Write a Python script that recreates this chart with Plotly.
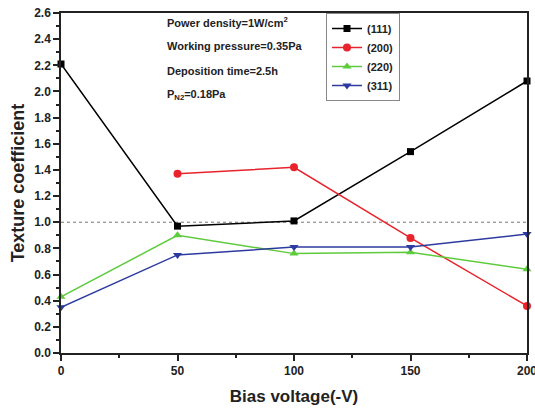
import plotly.graph_objects as go

x_vals = [0, 50, 100, 150, 200]
x_200 = [50, 100, 150, 200]
tc_111 = [2.21, 0.97, 1.01, 1.54, 2.08]
tc_200 = [1.37, 1.42, 0.88, 0.36]
tc_220 = [0.43, 0.90, 0.76, 0.77, 0.64]
tc_311 = [0.35, 0.75, 0.81, 0.81, 0.91]

fig = go.Figure()
series = [
    ("(111)", x_vals, tc_111, "black", "square", 7),
    ("(200)", x_200, tc_200, "#e8232b", "circle", 8),
    ("(220)", x_vals, tc_220, "#5ecb3c", "triangle-up", 8),
    ("(311)", x_vals, tc_311, "#2d3a9f", "triangle-down", 8),
]
for name, xs, ys, col, sym, sz in series:
    fig.add_trace(go.Scatter(x=xs, y=ys, name=name, mode="lines+markers",
                             line=dict(color=col, width=1.5),
                             marker=dict(color=col, symbol=sym, size=sz),
                             cliponaxis=False))

fig.add_shape(type="line", x0=0, x1=200, y0=1.0, y1=1.0, xref="x", yref="y",
              line=dict(color="#777777", width=1, dash="dot"), layer="below")

font_b = "Liberation Sans"
ann = [
    ("<b>Power density=1W/cm<sup>2</sup></b>", 22),
    ("<b>Working pressure=0.35Pa</b>", 46),
    ("<b>Deposition time=2.5h</b>", 71),
    ("<b>P<sub>N2</sub>=0.18Pa</b>", 95),
]
for txt, py in ann:
    fig.add_annotation(text=txt, xref="paper", yref="paper",
                       x=(165 - 61) / 466, y=1 - (py - 13) / 340,
                       xanchor="left", yanchor="middle", showarrow=False,
                       font=dict(family=font_b, size=11, color="#222"))

fig.update_layout(
    width=535, height=410,
    margin=dict(l=61, r=8, t=13, b=57, autoexpand=False),
    paper_bgcolor="white", plot_bgcolor="white",
    font=dict(family=font_b, color="#222"),
    legend=dict(x=(326 - 61) / 466, y=1.0, xanchor="left", yanchor="top",
                bordercolor="#888", borderwidth=1, bgcolor="white",
                font=dict(family=font_b, size=11, color="#222", weight="bold"),
                tracegroupgap=0, itemwidth=30),
    showlegend=True,
)
fig.update_xaxes(range=[0, 200], tickvals=[0, 50, 100, 150, 200],
                 ticks="outside", ticklen=6, tickwidth=1.5, tickcolor="#222",
                 showline=True, linecolor="#222", linewidth=1.5, mirror=True,
                 showgrid=False, zeroline=False, ticklabeloverflow="allow",
                 tickfont=dict(family=font_b, size=12, weight="bold"),
                 minor=dict(dtick=25, ticks="outside", ticklen=3, tickcolor="#222"),
                 title=dict(text="<b>Bias voltage(-V)</b>",
                            font=dict(family=font_b, size=17), standoff=13))
fig.update_yaxes(range=[0, 2.6], dtick=0.2, tickformat=".1f",
                 ticks="outside", ticklen=6, tickwidth=1.5, tickcolor="#222",
                 showline=True, linecolor="#222", linewidth=1.5, mirror=True,
                 showgrid=False, zeroline=False,
                 tickfont=dict(family=font_b, size=12, weight="bold"),
                 minor=dict(dtick=0.1, ticks="outside", ticklen=3, tickcolor="#222"),
                 title=dict(text="<b>Texture coefficient</b>",
                            font=dict(family=font_b, size=18), standoff=5))

fig.write_html("out.html")
